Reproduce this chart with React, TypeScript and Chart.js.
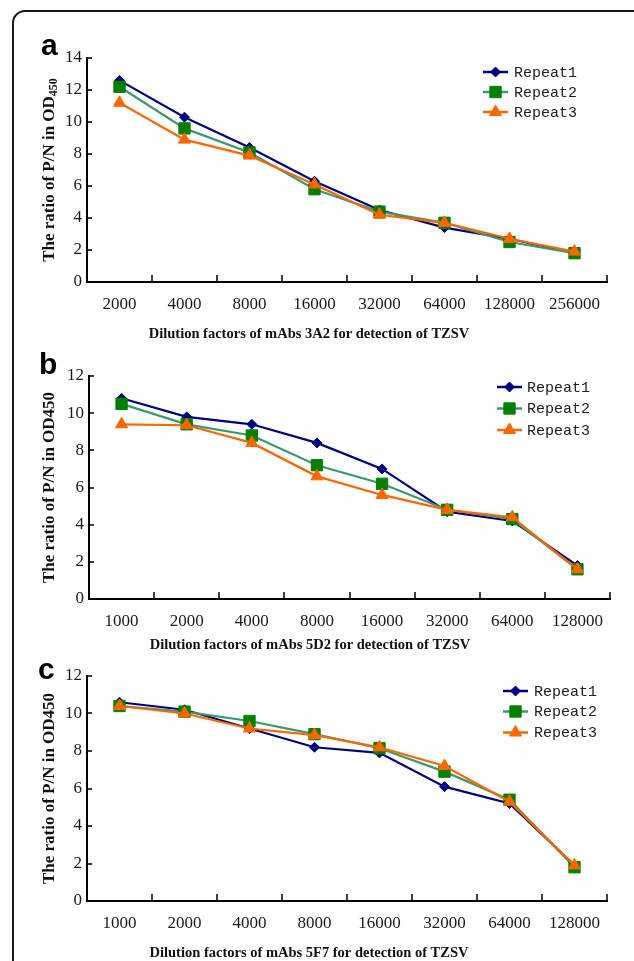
import React, { useEffect, useRef } from 'react';
import { Chart, registerables } from 'chart.js';
import { drawPoint } from 'chart.js/helpers';

Chart.register(...registerables);

// ---------- data ----------
const catsA = ['2000', '4000', '8000', '16000', '32000', '64000', '128000', '256000'];
const catsBC = ['1000', '2000', '4000', '8000', '16000', '32000', '64000', '128000'];
const seriesNames = ['Repeat1', 'Repeat2', 'Repeat3'];

const a1 = [12.6, 10.3, 8.4, 6.3, 4.5, 3.4, 2.7, 1.8];
const a2 = [12.2, 9.6, 8.1, 5.8, 4.4, 3.7, 2.5, 1.8];
const a3 = [11.2, 8.9, 7.9, 6.1, 4.2, 3.7, 2.7, 1.9];

const b1 = [10.8, 9.8, 9.4, 8.4, 7.0, 4.7, 4.2, 1.8];
const b2 = [10.5, 9.4, 8.8, 7.2, 6.2, 4.8, 4.3, 1.6];
const b3 = [9.4, 9.35, 8.4, 6.6, 5.6, 4.8, 4.4, 1.6];

const c1 = [10.6, 10.2, 9.2, 8.2, 7.9, 6.1, 5.2, 1.9];
const c2 = [10.4, 10.1, 9.6, 8.9, 8.15, 6.9, 5.4, 1.8];
const c3 = [10.4, 10.0, 9.2, 8.85, 8.2, 7.2, 5.3, 1.9];

const yMaxA = 14;
const yMaxBC = 12;
const yStep = 2;

const xTitleA = 'Dilution factors of mAbs 3A2 for detection of TZSV';
const xTitleB = 'Dilution factors of mAbs 5D2 for detection of TZSV';
const xTitleC = 'Dilution factors of mAbs 5F7 for detection of TZSV';
const yTitleMain = 'The ratio of P/N in OD';
const yTitleSub = '450';

// ---------- styles ----------
const lineColors = ['#000080', '#3a9a6c', '#ff6600'];
const pointColors = ['#000080', '#008000', '#ff6600'];
const pointStyles = ['rectRot', 'rect', 'triangle'];
const pointRadii = [5, 8, 7];
const SERIF = '"Liberation Serif", "Times New Roman", serif';

const annotPlugin = {
  id: 'annot',
  beforeDatasetsDraw(chart: any) {
    const { ctx, chartArea: ca, scales } = chart;
    const x = scales.x;
    const y = scales.y;
    ctx.save();
    ctx.strokeStyle = '#000';
    ctx.lineWidth = 1.5;
    ctx.beginPath();
    const n = x.ticks.length;
    const w = (ca.right - ca.left) / n;
    for (let i = 1; i <= n; i++) {
      const px = Math.round(ca.left + i * w);
      ctx.moveTo(px, ca.bottom);
      ctx.lineTo(px, ca.bottom - 7);
    }
    y.ticks.forEach((t: any) => {
      if (t.value === 0) return;
      const py = Math.round(y.getPixelForValue(t.value));
      ctx.moveTo(ca.left, py);
      ctx.lineTo(ca.left + 5, py);
    });
    ctx.stroke();
    ctx.restore();
  },
  afterDraw(chart: any, _args: any, opts: any) {
    const { ctx, chartArea: ca } = chart;
    ctx.save();
    // panel letter
    ctx.fillStyle = '#000';
    ctx.font = 'bold 30px "Liberation Sans", Arial, sans-serif';
    ctx.textAlign = 'left';
    ctx.textBaseline = 'alphabetic';
    ctx.fillText(opts.letter, opts.letterX, opts.letterY);

    // x title
    ctx.font = `bold 14.5px ${SERIF}`;
    ctx.textAlign = 'center';
    ctx.textBaseline = 'middle';
    ctx.fillStyle = '#111';
    ctx.fillText(opts.xTitle, opts.xTitleX, opts.xTitleY);

    // y title (rotated, optional subscript)
    const cy = (ca.top + ca.bottom) / 2;
    ctx.translate(opts.yTitleX, cy);
    ctx.rotate(-Math.PI / 2);
    ctx.textAlign = 'left';
    const mainFont = `bold 17px ${SERIF}`;
    const subFont = `bold 12px ${SERIF}`;
    ctx.font = mainFont;
    const mainText = opts.ySub ? yTitleMain : yTitleMain + yTitleSub;
    const w1 = ctx.measureText(mainText).width;
    let w2 = 0;
    if (opts.ySub) {
      ctx.font = subFont;
      w2 = ctx.measureText(yTitleSub).width;
    }
    const start = -(w1 + w2) / 2;
    ctx.font = mainFont;
    ctx.fillText(mainText, start, 0);
    if (opts.ySub) {
      ctx.font = subFont;
      ctx.fillText(yTitleSub, start + w1, 4);
    }
    ctx.setTransform(1, 0, 0, 1, 0, 0);

    // legend
    chart.data.datasets.forEach((ds: any, i: number) => {
      const ly = opts.legendY[i];
      ctx.strokeStyle = ds.borderColor;
      ctx.lineWidth = 2.5;
      ctx.beginPath();
      ctx.moveTo(opts.legendX1, ly);
      ctx.lineTo(opts.legendX2, ly);
      ctx.stroke();
      ctx.fillStyle = ds.pointBackgroundColor;
      ctx.strokeStyle = ds.pointBorderColor;
      ctx.lineWidth = 1;
      drawPoint(ctx, { pointStyle: ds.pointStyle, radius: ds.pointRadius, rotation: 0, borderWidth: 1 }, (opts.legendX1 + opts.legendX2) / 2, ly);
      ctx.fillStyle = '#222';
      ctx.font = '15px "Liberation Mono", "DejaVu Sans Mono", monospace';
      ctx.textAlign = 'left';
      ctx.textBaseline = 'middle';
      ctx.fillText(ds.label, opts.legendTextX, ly + 1);
    });
    ctx.restore();
  },
};

function makeConfig(labels: string[], series: number[][], yMax: number, geo: any, annot: any) {
  return {
    type: 'line',
    data: {
      labels,
      datasets: series.map((vals, i) => ({
        label: seriesNames[i],
        data: vals,
        borderColor: lineColors[i],
        borderWidth: 2.2,
        pointStyle: pointStyles[i],
        pointRadius: pointRadii[i],
        pointBackgroundColor: pointColors[i],
        pointBorderColor: pointColors[i],
        pointBorderWidth: 1,
        tension: 0,
        fill: false,
        order: 3 - i,
      })),
    },
    options: {
      animation: false,
      responsive: false,
      maintainAspectRatio: false,
      devicePixelRatio: 1,
      events: [],
      layout: { padding: { top: geo.padTop, right: geo.padRight, left: 0, bottom: 0 } },
      plugins: { legend: { display: false }, tooltip: { enabled: false }, annot },
      scales: {
        x: {
          offset: true,
          grid: { display: false, drawTicks: false },
          border: { display: true, color: '#000', width: 2 },
          ticks: {
            font: { family: SERIF, size: 17 },
            color: '#1a1a1a',
            padding: 12,
            maxRotation: 0,
            autoSkip: false,
          },
          afterFit(s: any) {
            s.height = geo.xHeight;
          },
        },
        y: {
          min: 0,
          max: yMax,
          grid: { display: false, drawTicks: false },
          border: { display: true, color: '#000', width: 2 },
          ticks: {
            stepSize: yStep,
            font: { family: SERIF, size: 17 },
            color: '#1a1a1a',
            padding: 5,
          },
          afterFit(s: any) {
            s.width = geo.yWidth;
          },
        },
      },
    },
    plugins: [annotPlugin],
  };
}

function Panel(props: { top: number; height: number; cfg: any }) {
  const ref = useRef<HTMLCanvasElement>(null);
  useEffect(() => {
    const chart = new Chart(ref.current as HTMLCanvasElement, props.cfg);
    return () => chart.destroy();
  }, []);
  return (
    <canvas
      ref={ref}
      width={634}
      height={props.height}
      style={{ position: 'absolute', left: 0, top: props.top, width: 634, height: props.height }}
    />
  );
}

export default function App() {
  const cfgA = makeConfig(catsA, [a1, a2, a3], yMaxA,
    { padTop: 28, padRight: 27, xHeight: 68, yWidth: 87 },
    { letter: 'a', letterX: 41, letterY: 25, xTitle: xTitleA, xTitleX: 309, xTitleY: 304, yTitleX: 50, ySub: true,
      legendX1: 483, legendX2: 508, legendTextX: 514, legendY: [42, 62, 82] });
  const cfgB = makeConfig(catsBC, [b1, b2, b3], yMaxBC,
    { padTop: 26, padRight: 24, xHeight: 61, yWidth: 89 },
    { letter: 'b', letterX: 39, letterY: 24, xTitle: xTitleB, xTitleX: 310, xTitleY: 295, yTitleX: 50, ySub: false,
      legendX1: 497, legendX2: 522, legendTextX: 527, legendY: [37, 58.5, 80] });
  const cfgC = makeConfig(catsBC, [c1, c2, c3], yMaxBC,
    { padTop: 16, padRight: 27, xHeight: 60, yWidth: 87 },
    { letter: 'c', letterX: 38, letterY: 19, xTitle: xTitleC, xTitleX: 309, xTitleY: 293, yTitleX: 50, ySub: false,
      legendX1: 503, legendX2: 528, legendTextX: 534, legendY: [31, 51.5, 72.5] });
  return (
    <div style={{ position: 'fixed', left: 0, top: 0, width: 634, height: 961, overflow: 'hidden', background: '#fff' }}>
      <div
        style={{
          position: 'absolute', left: 12, top: 10, width: 640, height: 1000,
          border: '2px solid #151515', borderRadius: 13, boxSizing: 'border-box',
        }}
      />
      <Panel top={30} height={320} cfg={cfgA} />
      <Panel top={350} height={310} cfg={cfgB} />
      <Panel top={660} height={301} cfg={cfgC} />
    </div>
  );
}
